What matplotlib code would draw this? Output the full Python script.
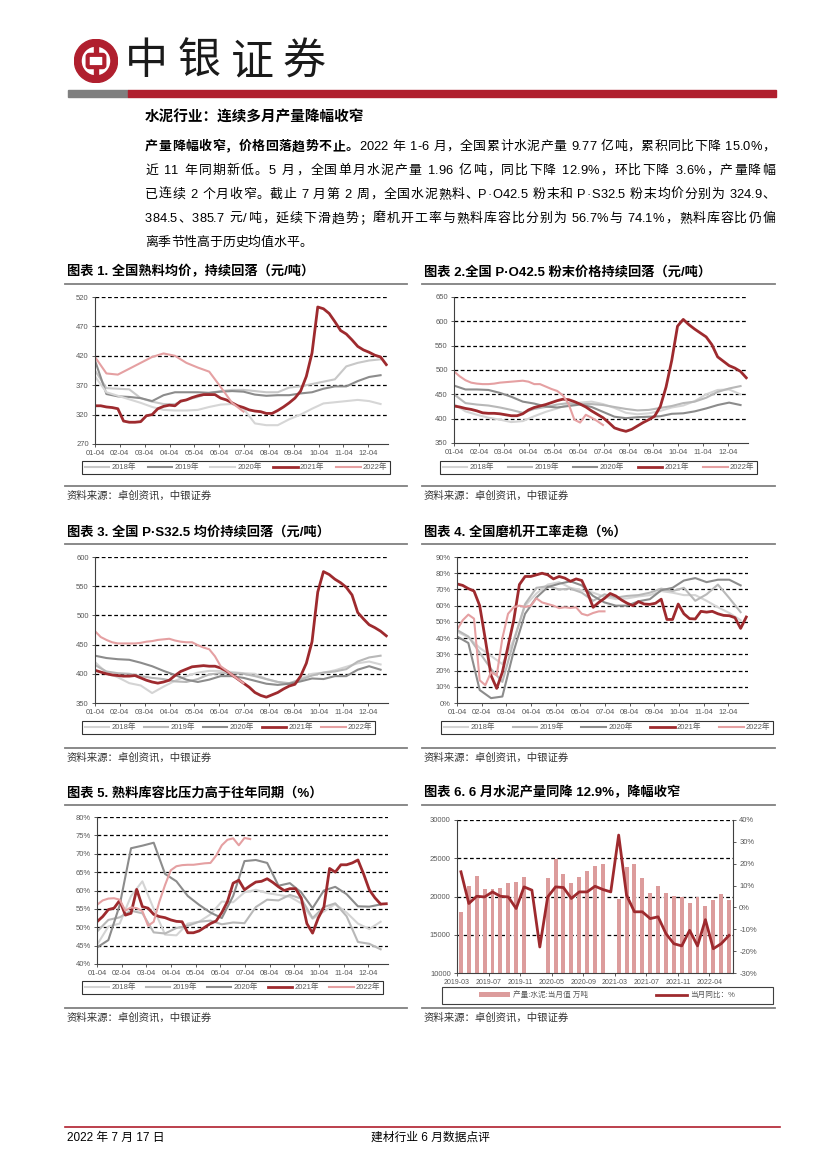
import numpy as np
import matplotlib
matplotlib.use('Agg')
import matplotlib.pyplot as plt
from matplotlib.patches import Rectangle, Wedge, FancyBboxPatch
from matplotlib.lines import Line2D

plt.rcParams['font.family'] = ['Liberation Sans', 'Noto Sans CJK SC', 'DejaVu Sans']
TICK_FONT = ['Liberation Sans Narrow', 'Liberation Sans', 'Noto Sans CJK SC', 'DejaVu Sans']

# ---------------- data ----------------
weeks = np.arange(52)
weeks2 = weeks[::2]
month_labels = ['01-04', '02-04', '03-04', '04-04', '05-04', '06-04',
                '07-04', '08-04', '09-04', '10-04', '11-04', '12-04']
years = ['2018年', '2019年', '2020年', '2021年', '2022年']

# chart 1: clinker price
c1_2018 = [395, 365, 364, 363, 348, 342, 338, 338, 345, 350, 357, 360, 362, 362, 360, 358, 358, 366, 368, 372, 376, 380, 402, 408, 412, 414]
c1_2019 = [412, 355, 351, 350, 348, 343, 353, 358, 358, 358, 357, 359, 360, 359, 354, 352, 353, 353, 356, 358, 364, 368, 368, 377, 384, 387]
c1_2020 = [385, 358, 352, 346, 340, 333, 328, 327, 327, 328, 333, 337, 338, 330, 305, 302, 302, 312, 320, 330, 339, 341, 343, 345, 343, 338]
c1_2021 = [335, 335, 333, 332, 330, 309, 307, 307, 308, 318, 320, 330, 334, 336, 335, 343, 345, 349, 352, 354,
           354, 354, 348, 345, 340, 335, 332, 328, 326, 325, 322, 322, 327, 333, 340, 348, 360, 385, 425, 503,
           500, 492, 478, 463, 457, 447, 436, 430, 426, 421, 418, 405]
c1_2022 = [418, 390, 388, 398, 408, 418, 424, 420, 408, 400, 393, 367, 340, 325]

# chart 2: P.O42.5
c2_2018 = [430, 415, 408, 402, 398, 393, 395, 405, 414, 421, 429, 433, 435, 430, 422, 412, 409, 411, 416, 423, 427, 436, 450, 459, 460, 450]
c2_2019 = [450, 432, 429, 427, 423, 418, 412, 420, 424, 429, 432, 430, 430, 428, 424, 420, 417, 418, 422, 426, 432, 435, 443, 455, 462, 467]
c2_2020 = [468, 460, 460, 459, 453, 445, 435, 431, 425, 423, 426, 429, 424, 414, 404, 401, 403, 404, 405, 410, 411, 415, 421, 428, 433, 428]
c2_2021 = [426, 424, 421, 419, 416, 412, 411, 411, 410, 408, 406, 406, 410, 418, 423, 426, 429, 433, 437, 440,
           439, 435, 430, 424, 416, 409, 402, 392, 381, 377, 374, 378, 385, 392, 398, 405, 425, 465, 520, 590,
           604, 593, 584, 576, 568, 552, 527, 518, 509, 504, 497, 484]
c2_2022 = [497, 487, 479, 474, 472, 471, 471, 472, 474, 475, 476, 477, 478, 476, 471, 471, 466, 461, 457, 448,
           430, 398, 392, 408, 402, 395, 387]

# chart 3: P.S32.5
c3_2018 = [420, 402, 394, 384, 380, 367, 378, 388, 396, 402, 405, 405, 403, 401, 400, 391, 386, 382, 392, 400, 402, 406, 412, 418, 421, 416]
c3_2019 = [415, 404, 401, 400, 396, 393, 391, 387, 386, 391, 399, 401, 401, 400, 396, 391, 386, 384, 390, 397, 402, 404, 408, 421, 428, 431]
c3_2020 = [431, 427, 425, 424, 419, 413, 405, 398, 390, 386, 390, 396, 396, 393, 388, 383, 381, 383, 387, 392, 391, 396, 396, 407, 413, 407]
c3_2021 = [406, 403, 400, 398, 397, 396, 396, 397, 393, 389, 386, 384, 386, 389, 397, 404, 408, 412, 413, 414,
           413, 413, 410, 405, 398, 391, 384, 377, 368, 363, 360, 364, 368, 374, 379, 382, 396, 418, 455, 540,
           575, 570, 562, 556, 548, 535, 505, 494, 484, 479, 473, 465]
c3_2022 = [473, 463, 458, 454, 452, 452, 452, 452, 453, 455, 456, 458, 459, 460, 457, 455, 454, 454, 449, 445,
           442, 430, 413, 406, 398, 391, 384]

# chart 4: mill operating rate (%)
c4_2018 = [44, 40.5, 34, 29, 24, 39, 60, 67.5, 73, 74.5, 71, 69.5, 68, 65.5, 64, 64.5, 65.7, 66.5, 69, 68, 66.5, 66.5, 63, 59, 55.5, 51]
c4_2019 = [45, 41, 31, 21, 13, 38, 61, 71, 72, 70, 70.5, 68, 63, 67, 65, 66, 66.5, 68, 70.5, 69, 71, 63, 67, 73, 64.7, 56]
c4_2020 = [41, 37, 8, 3, 4, 32, 55, 65, 71.5, 73.5, 75, 72.5, 66, 62, 60, 60, 62.7, 64, 69.5, 71, 75.5, 77, 74.5, 76, 76, 72.5]
c4_2021 = [73.4, 72.5, 70.5, 69, 60, 39, 17, 9, 19, 35, 51, 73, 78, 78, 79, 80, 79, 76.5, 78, 77,
           75, 76.5, 75.5, 68, 59, 62, 64.5, 67.5, 66, 63.5, 61.5, 60, 62.5, 61, 60.8, 61.5, 64, 51.5, 51.5, 61,
           55, 52, 51.8, 56.5, 56, 56.5, 55, 54, 53.8, 52.6, 46, 53]
c4_2022 = [45, 51, 54.5, 52, 14, 11, 19, 17, 40, 55, 59, 60, 59.2, 60, 64.5, 62, 61, 60, 58.5, 59,
           58.6, 59, 55, 54, 55.5, 56.5, 56.5]

# chart 5: clinker storage ratio (%)
c5_2018 = [45.2, 50.2, 51, 58.5, 62.5, 55, 48, 47.8, 51, 51.5, 53.5, 57, 56.8, 59.5, 60.2, 59.3, 58.8, 58.3, 56.5, 52.3, 54.3, 56.3, 54, 51, 49.5, 51.5]
c5_2019 = [48.8, 52, 52.7, 54.5, 53.8, 48.6, 48.3, 49.8, 50.4, 51.5, 51.8, 50.8, 51.3, 51.1, 55.5, 57.5, 57.3, 58.8, 57.8, 52.5, 55.5, 56.5, 53, 46, 45.5, 44]
c5_2020 = [44.5, 46.5, 56, 71.5, 72.2, 73, 64.5, 62.5, 58.5, 56.1, 54, 52.5, 58.5, 68, 68.3, 67.5, 61.3, 62, 59.5, 55.2, 60, 61, 59, 55.7, 55.6, 56.2]
c5_2021 = [51.5, 52.9, 54.8, 55.2, 57.3, 53.3, 53.8, 60.3, 55.6, 55.2, 53.5, 52.9, 52.6, 52, 51.6, 51.5, 48.5, 48.5, 49, 50,
           51, 51.7, 54, 57, 62, 62.8, 60.2, 61.3, 62.3, 62.5, 63.2, 62.2, 61, 60, 60.5, 60.5, 58, 51, 48.4, 52.5,
           55.5, 66, 65, 67, 67, 67.5, 68.3, 64.5, 60.2, 58, 56.3, 56.4]
c5_2022 = [56.1, 57.3, 57.8, 57.9, 57.5, 54.5, 55.4, 55.2, 54.4, 50.4, 51.5, 57, 61.5, 65.5, 66.6, 66.9, 67, 67, 67.2, 67.4,
           67.5, 69.5, 72.3, 73.8, 74.2, 72.3, 74.3, 74.0]

# chart 6: monthly cement output (10k t) and yoy (%)
months6 = (['2019-%02d' % m for m in range(3, 13)] + ['2020-%02d' % m for m in range(3, 13)]
           + ['2021-%02d' % m for m in range(3, 13)] + ['2022-%02d' % m for m in range(2, 7)])
output6 = [18000, 21350, 22660, 20960, 20960, 21050, 21800, 21870, 22520, np.nan,
           np.nan, 22390, 24910, 22910, 21780, 22560, 23350, 24040, 24300, np.nan,
           19700, 23900, 24300, 22480, 20400, 21400, 20480, 20040, 19960, 19100,
           20000, 18700, 19500, 20300, 19600]
yoy6 = [16.3, 1.8, 5.1, 4.8, 7.1, 5.1, 4.8, -0.5, 9.4, 7.9,
        -18.1, 4.8, 9.4, 9.1, 4.1, 7.1, 7.1, 9.7, 8.2, 7.1,
        33.1, 5.6, -2.0, -2.0, -5.1, -4.3, -12.0, -16.6, -17.6, -10.5,
        -17.6, -5.6, -18.9, -16.6, -12.8]

# ---------------- style ----------------
RED = '#9e2a2e'
PINK = '#e5a0a2'
BAR = '#dc9c9c'
GRAY_TXT = '#595959'
LINE_GRAY = '#808080'
BOC_RED = '#b01f2e'

W, H = 827, 1169
fig = plt.figure(figsize=(8.27, 11.69), dpi=100)
renderer = fig.canvas.get_renderer()


def fx(p):
    return p / W


def fy(p):
    return 1 - p / H


def hline(x0, x1, y, color=LINE_GRAY, lw=1.3):
    fig.add_artist(Line2D([fx(x0), fx(x1)], [fy(y), fy(y)], color=color, lw=lw))


def text_line(segments, y, x0, x1, fs, justify=True):
    # lay a line out glyph by glyph, spreading the slack at CJK boundaries
    chars = [(c, wt) for txt, wt in segments for c in txt]
    widths = []
    for c, wt in chars:
        if c == ' ':
            widths.append(fs * 100 / 72 * 0.28)
            continue
        t = fig.text(0, 0, c, fontsize=fs, weight=wt)
        widths.append(t.get_window_extent(renderer).width)
        t.remove()
    stretch = [(ord(a[0]) > 127 or ord(b[0]) > 127 or a[0] == ' ' or b[0] == ' ')
               for a, b in zip(chars[:-1], chars[1:])] + [False]
    gap = 0
    if justify and sum(stretch):
        gap = (x1 - x0 - sum(widths)) / sum(stretch)
    x = x0
    for (c, wt), w, s in zip(chars, widths, stretch):
        if c != ' ':
            fig.text(fx(x), fy(y), c, fontsize=fs, weight=wt, va='center', ha='left')
        x += w + (gap if s else 0)


# ---------------- header ----------------
fig.patches.append(Rectangle((fx(68), fy(97)), fx(128) - fx(68), 7 / H, transform=fig.transFigure,
                             color='#7f7f7f'))
fig.patches.append(Rectangle((fx(128), fy(97)), fx(776) - fx(128), 7 / H, transform=fig.transFigure,
                             color=BOC_RED))

logo = fig.add_axes([fx(74), fy(83), 44 / W, 44 / H])
logo.set_xlim(-1, 1)
logo.set_ylim(-1, 1)
logo.axis('off')
logo.add_patch(Wedge((0, 0), 0.98, 0, 360, width=0.3, color=BOC_RED))
logo.add_patch(Rectangle((-0.08, -0.7), 0.16, 1.4, color=BOC_RED))
logo.add_patch(FancyBboxPatch((-0.3, -0.2), 0.6, 0.4, boxstyle='round,pad=0.08', facecolor='white',
                              edgecolor=BOC_RED, lw=3.0))

for ch, cx in zip('中银证券', [146, 199, 252, 304]):
    fig.text(fx(cx), fy(62), ch, fontsize=31, ha='center', va='center', color='#1a1a1a',
             family=['Noto Sans CJK SC'], weight='light')

# ---------------- intro text ----------------
fig.text(fx(145), fy(117), '水泥行业：连续多月产量降幅收窄', fontsize=10.5, weight='bold',
         va='center', ha='left')

fs_p = 9.3
text_line([('产量降幅收窄，价格回落趋势不止。', 'bold'),
           ('2022 年 1-6 月，全国累计水泥产量 9.77 亿吨，累积同比下降 15.0%，', 'normal')],
          147, 145, 775, fs_p)
para = ['近 11 年同期新低。5 月，全国单月水泥产量 1.96 亿吨，同比下降 12.9%，环比下降 3.6%，产量降幅',
        '已连续 2 个月收窄。截止 7 月第 2 周，全国水泥熟料、P·O42.5 粉末和 P·S32.5 粉末均价分别为 324.9、',
        '384.5、385.7 元/吨，延续下滑趋势；磨机开工率与熟料库容比分别为 56.7%与 74.1%，熟料库容比仍偏',
        '离季节性高于历史均值水平。']
for i, line in enumerate(para):
    text_line([(line, 'normal')], 171 + 24 * i, 145, 775, fs_p, justify=(i < 3))


# ---------------- helpers for charts ----------------
def chart_frame(x0, x1, ytitle, ysrc, title):
    fig.text(fx(x0 + 2), fy(ytitle), title, fontsize=9.5, weight='bold', va='center', ha='left')
    hline(x0, x1, ytitle + 12)
    hline(x0, x1, ysrc)
    fig.text(fx(x0 + 2), fy(ysrc + 10), '资料来源：卓创资讯，中银证券', fontsize=7.5, va='center',
             ha='left', color='#333333')


def style_ticks(ax, size=5.5):
    ax.tick_params(labelsize=size, colors='#404040', labelcolor=GRAY_TXT, length=2.5, width=0.6, pad=2)
    for lbl in ax.get_xticklabels() + ax.get_yticklabels():
        lbl.set_family(TICK_FONT)


def style_axes(ax, yticks, ylabels):
    ax.set_yticks(yticks, ylabels)
    for t in yticks[1:]:
        ax.axhline(t, color='black', lw=0.9, ls=(0, (3, 2)), zorder=0)
    for s in ['top', 'right']:
        ax.spines[s].set_visible(False)
    for s in ['left', 'bottom']:
        ax.spines[s].set_color('#404040')
        ax.spines[s].set_linewidth(0.8)
    style_ticks(ax)


def put_legend(handles, labels, box, ncol, handlelength=3.2, borderpad=0.35):
    x0, y0, x1, y1 = box
    leg = fig.legend(handles, labels, loc='center', ncol=ncol, mode='expand',
                     bbox_to_anchor=(fx(x0), fy(y1), fx(x1) - fx(x0), (y1 - y0) / H),
                     bbox_transform=fig.transFigure, fontsize=5.5, frameon=True, fancybox=False,
                     edgecolor='black', borderaxespad=0, handlelength=handlelength, handletextpad=0.3,
                     borderpad=borderpad, labelcolor=GRAY_TXT, columnspacing=1.0)
    leg.get_frame().set_linewidth(0.8)


def year_chart(box, series, colors, ylim, yticks, ylabels, legend_box):
    left, top, right, bottom = box
    ax = fig.add_axes([fx(left), fy(bottom), fx(right) - fx(left), (bottom - top) / H])
    for lab, (x, y), c in zip(years, series, colors):
        lw = 2.0 if lab == '2021年' else 1.5
        ax.plot(x, y, color=c, lw=lw, label=lab, solid_joinstyle='round')
    ax.set_xlim(0, 51.3)
    ax.set_ylim(*ylim)
    ax.set_xticks(np.arange(12) * 4.35, month_labels)
    style_axes(ax, yticks, ylabels)
    h, l = ax.get_legend_handles_labels()
    put_legend(h, l, legend_box, 5)
    return ax


colors_a = ['#c8c8c8', '#8c8c8c', '#d6d6d6', RED, PINK]
colors_b = ['#d4d4d4', '#b8b8b8', '#8c8c8c', RED, PINK]

# chart 1
chart_frame(65, 407, 272, 486, '图表 1. 全国熟料均价，持续回落（元/吨）')
year_chart((95, 297, 388, 444),
           [(weeks2, c1_2018), (weeks2, c1_2019), (weeks2, c1_2020), (weeks, c1_2021),
            (weeks2[:len(c1_2022)], c1_2022)],
           colors_a, (270, 520), np.arange(270, 521, 50), [str(v) for v in range(270, 521, 50)],
           (82, 460, 390, 475))

# chart 2
chart_frame(422, 775, 272, 486, '图表 2.全国 P·O42.5 粉末价格持续回落（元/吨）')
year_chart((454, 297, 748, 443),
           [(weeks2, c2_2018), (weeks2, c2_2019), (weeks2, c2_2020), (weeks, c2_2021),
            (weeks[:len(c2_2022)], c2_2022)],
           colors_b, (350, 650), np.arange(350, 651, 50), [str(v) for v in range(350, 651, 50)],
           (440, 460, 757, 475))

# chart 3
chart_frame(65, 407, 532, 748, '图表 3. 全国 P·S32.5 均价持续回落（元/吨）')
year_chart((95, 557, 388, 703),
           [(weeks2, c3_2018), (weeks2, c3_2019), (weeks2, c3_2020), (weeks, c3_2021),
            (weeks[:len(c3_2022)], c3_2022)],
           colors_b, (350, 600), np.arange(350, 601, 50), [str(v) for v in range(350, 601, 50)],
           (82, 720, 375, 735))

# chart 4
chart_frame(422, 775, 532, 748, '图表 4. 全国磨机开工率走稳（%）')
year_chart((457, 557, 748, 703),
           [(weeks2, c4_2018), (weeks2, c4_2019), (weeks2, c4_2020), (weeks, c4_2021),
            (weeks[:len(c4_2022)], c4_2022)],
           colors_b, (0, 90), np.arange(0, 91, 10), ['%d%%' % v for v in range(0, 91, 10)],
           (441, 720, 773, 735))

# chart 5
chart_frame(65, 407, 793, 1008, '图表 5. 熟料库容比压力高于往年同期（%）')
year_chart((97, 817, 388, 964),
           [(weeks2, c5_2018), (weeks2, c5_2019), (weeks2, c5_2020), (weeks, c5_2021),
            (weeks[:len(c5_2022)], c5_2022)],
           colors_b, (40, 80), np.arange(40, 81, 5), ['%d%%' % v for v in range(40, 81, 5)],
           (82, 980, 383, 995))

# chart 6
chart_frame(422, 775, 793, 1008, '图表 6. 6 月水泥产量同降 12.9%，降幅收窄')
ax6 = fig.add_axes([fx(457), fy(973), fx(733) - fx(457), (973 - 820) / H])
xc = np.arange(len(months6))
b = ax6.bar(xc, output6, width=0.5, color=BAR, label='产量:水泥:当月值 万吨', zorder=2)
ax6.set_xlim(-0.5, len(months6) - 0.5)
ax6.set_ylim(10000, 30000)
tick_idx = list(range(0, len(months6), 4))
ax6.set_xticks(np.array(tick_idx) - 0.5, [months6[i] for i in tick_idx])
style_axes(ax6, np.arange(10000, 30001, 5000), [str(v) for v in range(10000, 30001, 5000)])
for lbl in ax6.get_xticklabels():
    lbl.set_fontsize(5)
ax6b = ax6.twinx()
ln, = ax6b.plot(xc, yoy6, color=RED, lw=2.0, label='当月同比：%', solid_joinstyle='round')
ax6b.set_ylim(-30, 40)
ax6b.set_yticks(np.arange(-30, 41, 10), ['%d%%' % v for v in range(-30, 41, 10)])
for s in ['top', 'left', 'bottom']:
    ax6b.spines[s].set_visible(False)
ax6b.spines['right'].set_color('#404040')
ax6b.spines['right'].set_linewidth(0.8)
style_ticks(ax6b)

# legend of chart 6: frame drawn apart, entries centred inside
fig.patches.append(Rectangle((fx(442), fy(1004)), fx(773) - fx(442), 17 / H, transform=fig.transFigure,
                             fill=False, edgecolor='#404040', lw=0.8))
fig.legend([b, ln], ['产量:水泥:当月值 万吨', '当月同比：%'], loc='center', ncol=2,
           bbox_to_anchor=(fx(607), fy(995.5)), bbox_transform=fig.transFigure, fontsize=5.5,
           frameon=False, handlelength=4.0, handletextpad=0.4, columnspacing=9.0, labelcolor=GRAY_TXT)

# ---------------- footer ----------------
hline(65, 780, 1127, color=BOC_RED, lw=1.2)
fig.text(fx(67), fy(1138), '2022 年 7 月 17 日', fontsize=8.5, va='center', ha='left')
fig.text(fx(430), fy(1138), '建材行业 6 月数据点评', fontsize=8.5, va='center', ha='center')

fig.savefig('out.png', dpi=100)
